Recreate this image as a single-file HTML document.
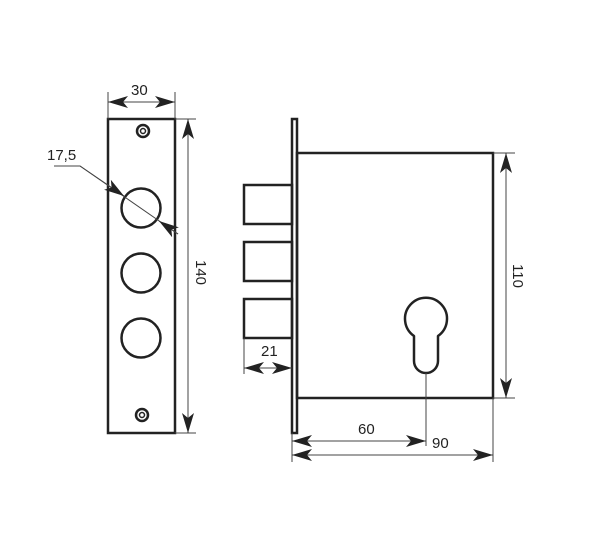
<!DOCTYPE html>
<html><head><style>html,body{margin:0;padding:0;background:#fff}svg{display:block}</style></head>
<body>
<svg width="600" height="533" viewBox="0 0 600 533" xmlns="http://www.w3.org/2000/svg">
<defs>
<marker id="a" viewBox="0 0 20 12" refX="20" refY="6" markerWidth="20" markerHeight="12" markerUnits="userSpaceOnUse" orient="auto-start-reverse"><path d="M0,0 L20,6 L0,12 L5,6 z" fill="#222"/></marker>
</defs>
<g fill="none" stroke="#222" stroke-width="2.5">
<rect x="108" y="119" width="67" height="314"/>
<circle cx="141" cy="208" r="19.5"/>
<circle cx="141" cy="273" r="19.5"/>
<circle cx="141" cy="338" r="19.5"/>
<circle cx="143" cy="131" r="6"/><circle cx="143" cy="131" r="2.5" stroke-width="1.5"/>
<circle cx="142" cy="415" r="6"/><circle cx="142" cy="415" r="2.5" stroke-width="1.5"/>
<rect x="292" y="119" width="5" height="314"/>
<rect x="297" y="153" width="196" height="245"/>
<rect x="244" y="185" width="48" height="39"/>
<rect x="244" y="242" width="48" height="39"/>
<rect x="244" y="299" width="48" height="39"/>
<path d="M414,336 A21,21 0 1 1 438,336 L438,361 A12,12 0 0 1 414,361 Z" stroke-linejoin="round"/>
</g>
<g fill="none" stroke="#444" stroke-width="1">
<line x1="108" y1="92" x2="108" y2="119"/><line x1="175" y1="92" x2="175" y2="119"/>
<line x1="108" y1="102" x2="175" y2="102" marker-start="url(#a)" marker-end="url(#a)"/>
<line x1="175" y1="119" x2="196" y2="119"/><line x1="175" y1="433" x2="196" y2="433"/>
<line x1="188" y1="119" x2="188" y2="433" marker-start="url(#a)" marker-end="url(#a)"/>
<polyline points="54,166 80,166 178,234"/>
<line x1="80" y1="166" x2="124" y2="196" marker-end="url(#a)"/>
<line x1="178" y1="234" x2="159" y2="221" marker-end="url(#a)"/>
<line x1="493" y1="153" x2="515" y2="153"/><line x1="493" y1="398" x2="515" y2="398"/>
<line x1="506" y1="153" x2="506" y2="398" marker-start="url(#a)" marker-end="url(#a)"/>
<line x1="244" y1="338" x2="244" y2="374"/>
<line x1="244" y1="368" x2="292" y2="368" marker-start="url(#a)" marker-end="url(#a)"/>
<line x1="292" y1="433" x2="292" y2="462"/><line x1="493" y1="398" x2="493" y2="462"/>
<line x1="426" y1="373" x2="426" y2="446"/>
<line x1="292" y1="441" x2="426" y2="441" marker-start="url(#a)" marker-end="url(#a)"/>
<line x1="292" y1="455" x2="493" y2="455" marker-start="url(#a)" marker-end="url(#a)"/>
</g>
<g font-family="Liberation Sans, sans-serif" font-size="15" fill="#222">
<text x="131" y="95">30</text>
<text x="47" y="160">17,5</text>
<text x="196" y="260" transform="rotate(90 196 260)">140</text>
<text x="513" y="264" transform="rotate(90 513 264)">110</text>
<text x="261" y="356">21</text>
<text x="358" y="434">60</text>
<text x="432" y="448">90</text>
</g>
</svg>
</body></html>
